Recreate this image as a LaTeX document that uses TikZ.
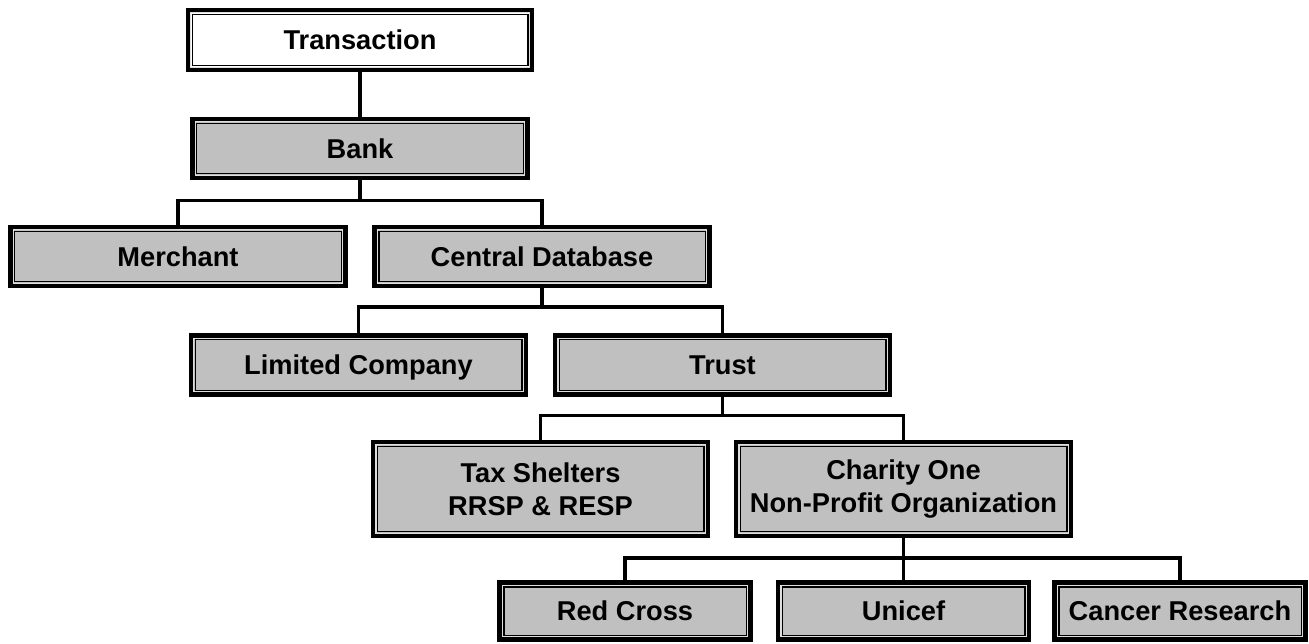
\documentclass[tikz,border=0pt]{standalone}
\usepackage{fontspec}
\setmainfont{Liberation Sans}
\definecolor{boxgray}{HTML}{C0C0C0}
\definecolor{gapgray}{HTML}{DEDEDE}
\begin{document}
\begin{tikzpicture}[
    boxbase/.style={draw, line width=2.3pt, fill=boxgray, outer sep=0pt,
      minimum width=6.70cm, inner sep=0pt, align=center,
      font=\bfseries\fontsize{15.5}{19}\selectfont,
      path picture={
        \draw[gapgray, line width=0.85pt] ([shift={(0.055,0.055)}]path picture bounding box.south west) rectangle ([shift={(-0.055,-0.055)}]path picture bounding box.north east);
        \draw[line width=0.85pt] ([shift={(0.085,0.085)}]path picture bounding box.south west) rectangle ([shift={(-0.085,-0.085)}]path picture bounding box.north east);}},
    orgbox/.style={boxbase, minimum height=1.18cm, text height=11.1pt, text depth=0pt},
    tallbox/.style={boxbase, minimum height=1.88cm},
    smallbox/.style={orgbox, minimum width=5.02cm, minimum height=1.14cm},
    link/.style={line width=2pt}]
  \useasboundingbox (0,0) rectangle (26.18,-12.88);
  % Top
  \node[orgbox, fill=white, minimum width=6.88cm, minimum height=1.20cm] (trans) at (7.20,-0.80) {Transaction};
  \node[orgbox] (bank) at (7.20,-2.97) {Bank};
  % Second level
  \node[orgbox] (merchant) at (3.56,-5.13) {Merchant};
  \node[orgbox] (central) at (10.84,-5.13) {Central Database};
  % Third level
  \node[orgbox] (limited) at (7.17,-7.30) {Limited Company};
  \node[orgbox] (trust) at (14.45,-7.30) {Trust};
  % Fourth level
  \node[tallbox] (tax) at (10.81,-9.78) {Tax Shelters\\RRSP \& RESP};
  \node[tallbox] (charity) at (18.07,-9.78) {Charity One\\Non-Profit Organization};
  % Bottom
  \node[smallbox] (redcross) at (12.50,-12.22) {Red Cross};
  \node[smallbox] (unicef) at (18.07,-12.22) {Unicef};
  \node[smallbox] (cancer) at (23.60,-12.22) {Cancer Research};
  % Connectors
  \draw[link] (trans.south) -- (bank.north);
  \draw[link] (bank.south) -- ++(0,-0.45) coordinate (bar1);
  \draw[link] (merchant.north) |- (bar1) -| (central.north);
  \draw[link] (central.south) -- ++(0,-0.42) coordinate (bar2);
  \draw[link] (limited.north) |- (bar2) -| (trust.north);
  \draw[link] (trust.south) -- ++(0,-0.42) coordinate (bar3);
  \draw[link] (tax.north) |- (bar3) -| (charity.north);
  \draw[link] (charity.south) -- ++(0,-0.44) coordinate (bar4);
  \draw[link] (redcross.north) |- (bar4) -| (cancer.north);
  \draw[link] (bar4) -- (unicef.north);
\end{tikzpicture}
\end{document}
